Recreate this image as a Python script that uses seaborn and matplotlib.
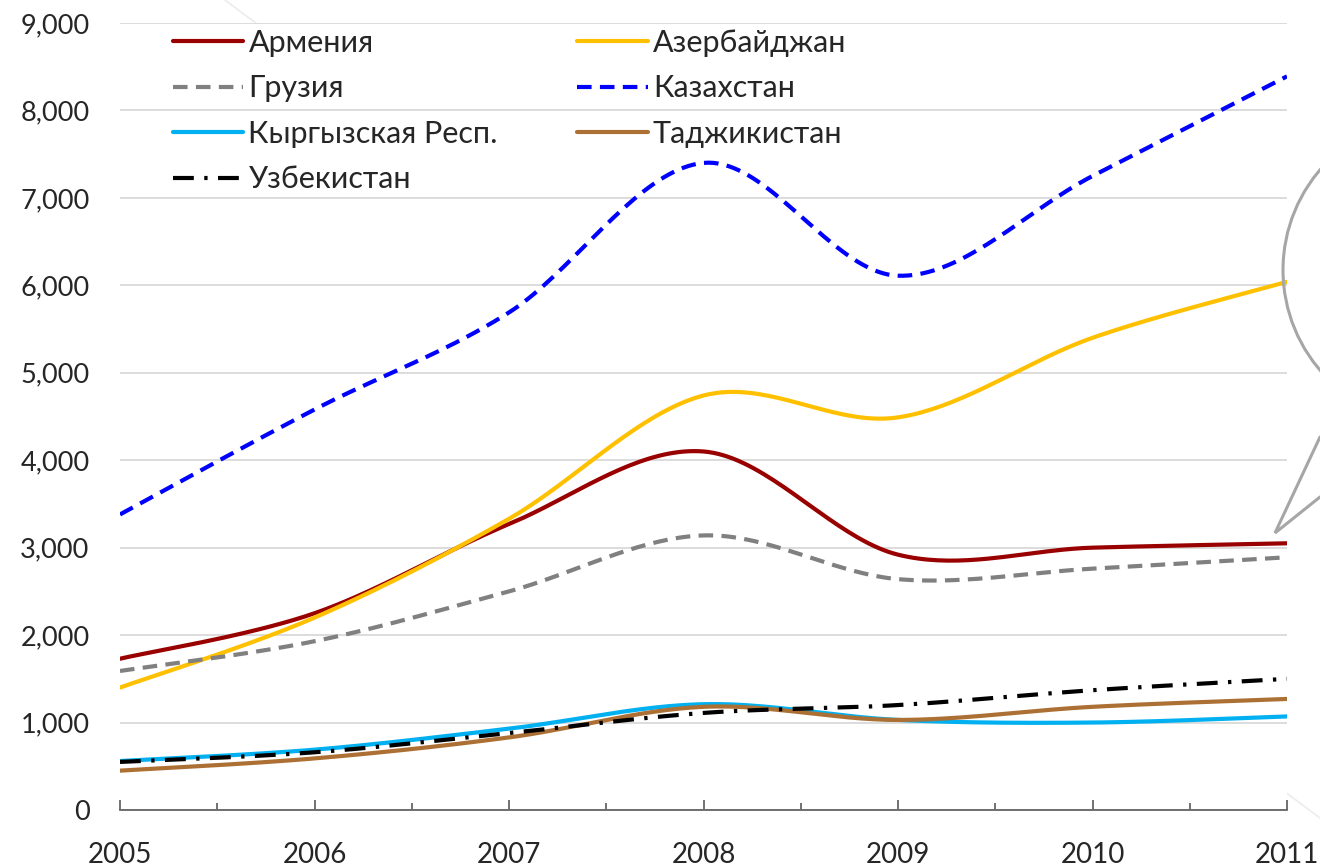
import numpy as np
import pandas as pd
import seaborn as sns
import matplotlib.pyplot as plt
from matplotlib.patches import Ellipse
from matplotlib.lines import Line2D
from matplotlib.ticker import FuncFormatter, MultipleLocator

# Data
years = [2005, 2006, 2007, 2008, 2009, 2010, 2011]
armenia = [1730, 2250, 3270, 4100, 2920, 3000, 3050]
azerbaijan = [1400, 2200, 3330, 4740, 4490, 5400, 6040]
georgia = [1590, 1930, 2500, 3140, 2640, 2760, 2890]
kazakhstan = [3380, 4580, 5690, 7400, 6110, 7250, 8390]
kyrgyz = [560, 690, 930, 1210, 1030, 1000, 1070]
tajikistan = [450, 590, 830, 1180, 1030, 1180, 1270]
uzbekistan = [550, 660, 880, 1110, 1200, 1370, 1500]

series = [
    ("Армения", armenia, "#990000", "-"),
    ("Азербайджан", azerbaijan, "#FFC000", "-"),
    ("Грузия", georgia, "#808080", (0, (3.5, 2))),
    ("Казахстан", kazakhstan, "#0000FF", (0, (3.5, 2))),
    ("Кыргызская Респ.", kyrgyz, "#00B0F0", "-"),
    ("Таджикистан", tajikistan, "#AD7034", "-"),
    ("Узбекистан", uzbekistan, "#000000", (0, (5, 2.5, 0.8, 2.5))),
]


def smooth(x, y, n=40):
    # Excel-style smoothed line (Catmull-Rom through the points)
    x = np.asarray(x, float)
    y = np.asarray(y, float)
    px = np.concatenate([[x[0]], x, [x[-1]]])
    py = np.concatenate([[y[0]], y, [y[-1]]])
    xs, ys = [], []
    t = np.linspace(0, 1, n)
    for i in range(1, len(px) - 2):
        p0x, p1x, p2x, p3x = px[i - 1:i + 3]
        p0y, p1y, p2y, p3y = py[i - 1:i + 3]
        c1x, c1y = p1x + (p2x - p0x) / 6, p1y + (p2y - p0y) / 6
        c2x, c2y = p2x - (p3x - p1x) / 6, p2y - (p3y - p1y) / 6
        bx = (1 - t) ** 3 * p1x + 3 * (1 - t) ** 2 * t * c1x + 3 * (1 - t) * t ** 2 * c2x + t ** 3 * p2x
        by = (1 - t) ** 3 * p1y + 3 * (1 - t) ** 2 * t * c1y + 3 * (1 - t) * t ** 2 * c2y + t ** 3 * p2y
        xs.append(bx if i == 1 else bx[1:])
        ys.append(by if i == 1 else by[1:])
    return np.concatenate(xs), np.concatenate(ys)


sns.set_style("white")
plt.rcParams["font.family"] = ["Lato", "DejaVu Sans"]

W, H = 1320, 866
fig = plt.figure(figsize=(W / 100, H / 100), dpi=100)
ax = fig.add_axes([120 / W, 1 - 810 / H, (1287 - 120) / W, (810 - 23) / H])

handles = {}
for name, vals, color, ls in series:
    xs, ys = smooth(years, vals)
    sns.lineplot(x=xs, y=ys, ax=ax, color=color, lw=3, linestyle=ls,
                 estimator=None, sort=False, zorder=3)
    handles[name] = Line2D([], [], color=color, lw=3, linestyle=ls)

ax.set_xlim(2005, 2011)
ax.set_ylim(0, 9000)
ax.yaxis.set_major_locator(MultipleLocator(1000))
ax.yaxis.set_major_formatter(FuncFormatter(lambda v, p: f"{int(v):,}"))
ax.xaxis.set_major_locator(MultipleLocator(1))
ax.xaxis.set_minor_locator(MultipleLocator(0.5))
ax.xaxis.set_major_formatter(FuncFormatter(lambda v, p: f"{int(round(v))}"))
ax.grid(axis="y", color="#d9d9d9", lw=1.3)
ax.grid(axis="x", visible=False)
ax.set_axisbelow(True)
for s in ["left", "right", "top"]:
    ax.spines[s].set_visible(False)
ax.spines["bottom"].set_color("#595959")
ax.spines["bottom"].set_linewidth(1.2)
ax.tick_params(axis="x", which="major", direction="in", length=7, width=1.2,
               color="#595959", labelsize=20, pad=23, bottom=True)
ax.tick_params(axis="x", which="minor", direction="in", length=5, width=1.2,
               color="#595959", bottom=True)
ax.tick_params(axis="y", length=0, labelsize=19.5, pad=22)
ax.set_xlabel("")
ax.set_ylabel("")

order = ["Армения", "Грузия", "Кыргызская Респ.", "Узбекистан",
         "Азербайджан", "Казахстан", "Таджикистан"]
fig.legend([handles[n] for n in order], order, loc="upper left",
           bbox_to_anchor=(173 / W, 1 - 29 / H), ncol=2, frameon=False,
           fontsize=22, handlelength=2.3, handletextpad=0.17,
           columnspacing=2.6, labelspacing=0.57, borderpad=0, borderaxespad=0)


def fp(x, y):
    return (x / W, 1 - y / H)


# faint diagonal line and the callout shape
fig.add_artist(Line2D([225 / W, 1320 / W], [1 - 0 / H, 1 - 818 / H],
                      color="#ececec", lw=1.2, zorder=0))
r = 154
fig.add_artist(Ellipse(fp(1437, 270), 2 * r / W, 2 * r / H, fill=False,
                       edgecolor="#a6a6a6", lw=2.2, zorder=5))
fig.add_artist(Line2D([1320 / W, 1275 / W, 1320 / W],
                      [1 - 437 / H, 1 - 533 / H, 1 - 497 / H],
                      color="#a6a6a6", lw=2.2, zorder=5, solid_joinstyle="miter"))

fig.savefig("out.png", dpi=100)
